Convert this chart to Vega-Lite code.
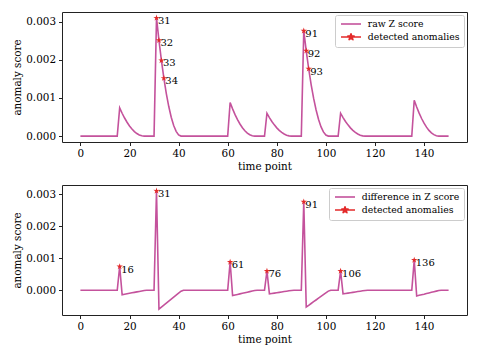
{
  "$schema": "https://vega.github.io/schema/vega-lite/v6.json",
  "padding": {"left": 12, "top": 11, "right": 5, "bottom": 5},
  "background": "white",
  "spacing": 11,
  "config": {
    "font": "DejaVu Serif",
    "view": {"stroke": "#222", "strokeWidth": 1},
    "axis": {
      "labelFont": "DejaVu Serif", "labelFontSize": 10.4, "labelColor": "#000",
      "titleFont": "DejaVu Serif", "titleFontSize": 10.4, "titleFontWeight": "normal", "titleColor": "#000",
      "tickColor": "#222", "tickSize": 3.5, "labelPadding": 3, "domain": false, "grid": false, "titlePadding": 3
    },
    "legend": {
      "labelFont": "DejaVu Serif", "labelFontSize": 9.3, "labelColor": "#000",
      "strokeColor": "#cccccc", "fillColor": "rgba(255,255,255,0.8)", "cornerRadius": 2, "padding": 4
    },
    "text": {"font": "DejaVu Serif"}
  },
  "datasets": {
    "z": [
      {"t":0,"raw":0,"diff":0},{"t":1,"raw":0,"diff":0},{"t":2,"raw":0,"diff":0},{"t":3,"raw":0,"diff":0},{"t":4,"raw":0,"diff":0},{"t":5,"raw":0,"diff":0},{"t":6,"raw":0,"diff":0},{"t":7,"raw":0,"diff":0},{"t":8,"raw":0,"diff":0},{"t":9,"raw":0,"diff":0},{"t":10,"raw":0,"diff":0},{"t":11,"raw":0,"diff":0},{"t":12,"raw":0,"diff":0},{"t":13,"raw":0,"diff":0},{"t":14,"raw":0,"diff":0},{"t":15,"raw":0,"diff":0},
      {"t":16,"raw":0.00074,"diff":0.00074},{"t":17,"raw":0.000599,"diff":-0.000141},{"t":18,"raw":0.000474,"diff":-0.000126},{"t":19,"raw":0.000363,"diff":-0.000111},{"t":20,"raw":0.000266,"diff":-0.0000962},{"t":21,"raw":0.000185,"diff":-0.0000814},{"t":22,"raw":0.000118,"diff":-0.0000666},{"t":23,"raw":0.0000666,"diff":-0.0000518},{"t":24,"raw":0.0000296,"diff":-0.000037},{"t":25,"raw":0.0000074,"diff":-0.0000222},{"t":26,"raw":0,"diff":-0.0000074},
      {"t":27,"raw":0,"diff":0},{"t":28,"raw":0,"diff":0},{"t":29,"raw":0,"diff":0},{"t":30,"raw":0,"diff":0},
      {"t":31,"raw":0.0031,"diff":0.0031},{"t":32,"raw":0.002511,"diff":-0.000589},{"t":33,"raw":0.001984,"diff":-0.000527},{"t":34,"raw":0.001519,"diff":-0.000465},{"t":35,"raw":0.001116,"diff":-0.000403},{"t":36,"raw":0.000775,"diff":-0.000341},{"t":37,"raw":0.000496,"diff":-0.000279},{"t":38,"raw":0.000279,"diff":-0.000217},{"t":39,"raw":0.000124,"diff":-0.000155},{"t":40,"raw":0.000031,"diff":-0.000093},{"t":41,"raw":0,"diff":-0.000031},
      {"t":42,"raw":0,"diff":0},{"t":43,"raw":0,"diff":0},{"t":44,"raw":0,"diff":0},{"t":45,"raw":0,"diff":0},{"t":46,"raw":0,"diff":0},{"t":47,"raw":0,"diff":0},{"t":48,"raw":0,"diff":0},{"t":49,"raw":0,"diff":0},{"t":50,"raw":0,"diff":0},{"t":51,"raw":0,"diff":0},{"t":52,"raw":0,"diff":0},{"t":53,"raw":0,"diff":0},{"t":54,"raw":0,"diff":0},{"t":55,"raw":0,"diff":0},{"t":56,"raw":0,"diff":0},{"t":57,"raw":0,"diff":0},{"t":58,"raw":0,"diff":0},{"t":59,"raw":0,"diff":0},{"t":60,"raw":0,"diff":0},
      {"t":61,"raw":0.00088,"diff":0.00088},{"t":62,"raw":0.000713,"diff":-0.000167},{"t":63,"raw":0.000563,"diff":-0.00015},{"t":64,"raw":0.000431,"diff":-0.000132},{"t":65,"raw":0.000317,"diff":-0.000114},{"t":66,"raw":0.00022,"diff":-0.0000968},{"t":67,"raw":0.000141,"diff":-0.0000792},{"t":68,"raw":0.0000792,"diff":-0.0000616},{"t":69,"raw":0.0000352,"diff":-0.000044},{"t":70,"raw":0.0000088,"diff":-0.0000264},{"t":71,"raw":0,"diff":-0.0000088},
      {"t":72,"raw":0,"diff":0},{"t":73,"raw":0,"diff":0},{"t":74,"raw":0,"diff":0},{"t":75,"raw":0,"diff":0},
      {"t":76,"raw":0.0006,"diff":0.0006},{"t":77,"raw":0.000486,"diff":-0.000114},{"t":78,"raw":0.000384,"diff":-0.000102},{"t":79,"raw":0.000294,"diff":-0.00009},{"t":80,"raw":0.000216,"diff":-0.000078},{"t":81,"raw":0.00015,"diff":-0.000066},{"t":82,"raw":0.000096,"diff":-0.000054},{"t":83,"raw":0.000054,"diff":-0.000042},{"t":84,"raw":0.000024,"diff":-0.00003},{"t":85,"raw":0.000006,"diff":-0.000018},{"t":86,"raw":0,"diff":-0.000006},
      {"t":87,"raw":0,"diff":0},{"t":88,"raw":0,"diff":0},{"t":89,"raw":0,"diff":0},{"t":90,"raw":0,"diff":0},
      {"t":91,"raw":0.00276,"diff":0.00276},{"t":92,"raw":0.002236,"diff":-0.000524},{"t":93,"raw":0.001766,"diff":-0.00047},{"t":94,"raw":0.001352,"diff":-0.000414},{"t":95,"raw":0.000994,"diff":-0.000358},{"t":96,"raw":0.00069,"diff":-0.000304},{"t":97,"raw":0.000442,"diff":-0.000248},{"t":98,"raw":0.000248,"diff":-0.000194},{"t":99,"raw":0.00011,"diff":-0.000138},{"t":100,"raw":0.0000276,"diff":-0.0000824},{"t":101,"raw":0,"diff":-0.0000276},
      {"t":102,"raw":0,"diff":0},{"t":103,"raw":0,"diff":0},{"t":104,"raw":0,"diff":0},{"t":105,"raw":0,"diff":0},
      {"t":106,"raw":0.0006,"diff":0.0006},{"t":107,"raw":0.000486,"diff":-0.000114},{"t":108,"raw":0.000384,"diff":-0.000102},{"t":109,"raw":0.000294,"diff":-0.00009},{"t":110,"raw":0.000216,"diff":-0.000078},{"t":111,"raw":0.00015,"diff":-0.000066},{"t":112,"raw":0.000096,"diff":-0.000054},{"t":113,"raw":0.000054,"diff":-0.000042},{"t":114,"raw":0.000024,"diff":-0.00003},{"t":115,"raw":0.000006,"diff":-0.000018},{"t":116,"raw":0,"diff":-0.000006},
      {"t":117,"raw":0,"diff":0},{"t":118,"raw":0,"diff":0},{"t":119,"raw":0,"diff":0},{"t":120,"raw":0,"diff":0},{"t":121,"raw":0,"diff":0},{"t":122,"raw":0,"diff":0},{"t":123,"raw":0,"diff":0},{"t":124,"raw":0,"diff":0},{"t":125,"raw":0,"diff":0},{"t":126,"raw":0,"diff":0},{"t":127,"raw":0,"diff":0},{"t":128,"raw":0,"diff":0},{"t":129,"raw":0,"diff":0},{"t":130,"raw":0,"diff":0},{"t":131,"raw":0,"diff":0},{"t":132,"raw":0,"diff":0},{"t":133,"raw":0,"diff":0},{"t":134,"raw":0,"diff":0},{"t":135,"raw":0,"diff":0},
      {"t":136,"raw":0.00094,"diff":0.00094},{"t":137,"raw":0.000761,"diff":-0.000179},{"t":138,"raw":0.000602,"diff":-0.000159},{"t":139,"raw":0.000461,"diff":-0.000141},{"t":140,"raw":0.000338,"diff":-0.000123},{"t":141,"raw":0.000235,"diff":-0.000103},{"t":142,"raw":0.00015,"diff":-0.000085},{"t":143,"raw":0.0000846,"diff":-0.0000654},{"t":144,"raw":0.0000376,"diff":-0.000047},{"t":145,"raw":0.0000094,"diff":-0.0000282},{"t":146,"raw":0,"diff":-0.0000094},
      {"t":147,"raw":0,"diff":0},{"t":148,"raw":0,"diff":0},{"t":149,"raw":0,"diff":0},{"t":150,"raw":0,"diff":0}
    ],
    "a1": [
      {"t":31,"v":0.0031},{"t":32,"v":0.002511},{"t":33,"v":0.001984},{"t":34,"v":0.001519},
      {"t":91,"v":0.00276},{"t":92,"v":0.002236},{"t":93,"v":0.001766}
    ],
    "a2": [
      {"t":16,"v":0.00074},{"t":31,"v":0.0031},{"t":61,"v":0.00088},{"t":76,"v":0.0006},
      {"t":91,"v":0.00276},{"t":106,"v":0.0006},{"t":136,"v":0.00094}
    ]
  },
  "resolve": {"scale": {"color": "independent"}, "legend": {"color": "independent"}},
  "vconcat": [
    {
      "width": 405, "height": 130,
      "layer": [
        {
          "data": {"name": "z"},
          "mark": {"type": "line", "strokeWidth": 1.6, "clip": true},
          "encoding": {
            "x": {"field": "t", "type": "quantitative", "scale": {"domain": [-7.5, 157.5], "nice": false, "zero": false},
                  "axis": {"values": [0,20,40,60,80,100,120,140], "title": "time point"}},
            "y": {"field": "raw", "type": "quantitative", "scale": {"domain": [-0.000155, 0.003255], "nice": false, "zero": false},
                  "axis": {"values": [0,0.001,0.002,0.003], "format": ".3f", "title": "anomaly score"}},
            "color": {"datum": "raw Z score", "type": "nominal",
              "scale": {"domain": ["raw Z score", "detected anomalies"], "range": ["#c4529c", "#e32a2a"]},
              "legend": {"title": null, "orient": "top-right", "offset": 3, "symbolSize": 64, "symbolOffset": 7, "labelOffset": 11.7, "rowPadding": 2,
                "encode": {"symbols": {"update": {
                  "shape": [{"test": "datum.value === 'detected anomalies'", "value": "M-2.5,0H2.5M0,-0.82L0.184,-0.252L0.78,-0.253L0.296,0.096L0.482,0.663L0,0.31L-0.482,0.663L-0.296,0.096L-0.78,-0.253L-0.184,-0.252Z"}, {"value": "M-2.5,0H2.5"}],
                  "stroke": [{"test": "datum.value === 'detected anomalies'", "value": "#e32a2a"}, {"value": "#c4529c"}],
                  "fill": [{"test": "datum.value === 'detected anomalies'", "value": "#e32a2a"}, {"value": "transparent"}],
                  "strokeWidth": {"value": 1.6}, "strokeJoin": {"value": "round"}, "opacity": {"value": 1}}}}}}
          }
        },
        {
          "data": {"name": "a1"},
          "mark": {"type": "point", "shape": "M0,-1L0.223,-0.307L0.951,-0.309L0.361,0.117L0.588,0.809L0,0.38L-0.588,0.809L-0.361,0.117L-0.951,-0.309L-0.223,-0.307Z", "filled": true, "size": 44, "color": "#e32a2a", "opacity": 1},
          "encoding": {
            "x": {"field": "t", "type": "quantitative"},
            "y": {"field": "v", "type": "quantitative"}
          }
        },
        {
          "data": {"name": "a1"},
          "mark": {"type": "text", "align": "left", "baseline": "alphabetic", "dx": 1.5, "dy": 6, "font": "DejaVu Serif", "fontSize": 10, "color": "#000"},
          "encoding": {
            "x": {"field": "t", "type": "quantitative"},
            "y": {"field": "v", "type": "quantitative"},
            "text": {"field": "t", "type": "quantitative", "format": "d"}
          }
        }
      ]
    },
    {
      "width": 405, "height": 130,
      "layer": [
        {
          "data": {"name": "z"},
          "mark": {"type": "line", "strokeWidth": 1.6, "clip": true},
          "encoding": {
            "x": {"field": "t", "type": "quantitative", "scale": {"domain": [-7.5, 157.5], "nice": false, "zero": false},
                  "axis": {"values": [0,20,40,60,80,100,120,140], "title": "time point"}},
            "y": {"field": "diff", "type": "quantitative", "scale": {"domain": [-0.000773, 0.003284], "nice": false, "zero": false},
                  "axis": {"values": [0,0.001,0.002,0.003], "format": ".3f", "title": "anomaly score"}},
            "color": {"datum": "difference in Z score", "type": "nominal",
              "scale": {"domain": ["difference in Z score", "detected anomalies"], "range": ["#c4529c", "#e32a2a"]},
              "legend": {"title": null, "orient": "top-right", "offset": 3, "symbolSize": 64, "symbolOffset": 7, "labelOffset": 11.7, "rowPadding": 2,
                "encode": {"symbols": {"update": {
                  "shape": [{"test": "datum.value === 'detected anomalies'", "value": "M-2.5,0H2.5M0,-0.82L0.184,-0.252L0.78,-0.253L0.296,0.096L0.482,0.663L0,0.31L-0.482,0.663L-0.296,0.096L-0.78,-0.253L-0.184,-0.252Z"}, {"value": "M-2.5,0H2.5"}],
                  "stroke": [{"test": "datum.value === 'detected anomalies'", "value": "#e32a2a"}, {"value": "#c4529c"}],
                  "fill": [{"test": "datum.value === 'detected anomalies'", "value": "#e32a2a"}, {"value": "transparent"}],
                  "strokeWidth": {"value": 1.6}, "strokeJoin": {"value": "round"}, "opacity": {"value": 1}}}}}}
          }
        },
        {
          "data": {"name": "a2"},
          "mark": {"type": "point", "shape": "M0,-1L0.223,-0.307L0.951,-0.309L0.361,0.117L0.588,0.809L0,0.38L-0.588,0.809L-0.361,0.117L-0.951,-0.309L-0.223,-0.307Z", "filled": true, "size": 44, "color": "#e32a2a", "opacity": 1},
          "encoding": {
            "x": {"field": "t", "type": "quantitative"},
            "y": {"field": "v", "type": "quantitative"}
          }
        },
        {
          "data": {"name": "a2"},
          "mark": {"type": "text", "align": "left", "baseline": "alphabetic", "dx": 1.5, "dy": 6, "font": "DejaVu Serif", "fontSize": 10, "color": "#000"},
          "encoding": {
            "x": {"field": "t", "type": "quantitative"},
            "y": {"field": "v", "type": "quantitative"},
            "text": {"field": "t", "type": "quantitative", "format": "d"}
          }
        }
      ]
    }
  ]
}
